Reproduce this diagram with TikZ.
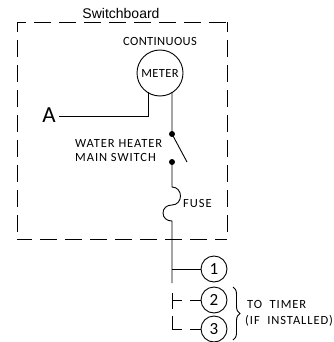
\documentclass[tikz,border=0pt]{standalone}
\usepackage{fontspec}
\setmainfont{Liberation Sans}
\newfontfamily\cadfont[LetterSpace=3]{Carlito}
\newfontfamily\cadwidefont[LetterSpace=7.5]{Carlito}
\usetikzlibrary{decorations.pathreplacing}
\tikzset{
    wire/.style={line width=0.9pt},
    cabinet/.style={line width=0.9pt, dash pattern=on 17pt off 8pt},
    terminal/.style={draw, circle, line width=0.9pt, minimum size=26pt, inner sep=0pt, font=\cadfont\fontsize{17}{17}\selectfont},
    contact/.style={fill, circle, minimum size=6pt, inner sep=0pt},
    cadtext/.style={font=\cadfont\fontsize{12.5}{13.5}\selectfont, inner sep=0pt},
    cadwide/.style={font=\cadwidefont\fontsize{12.5}{13.5}\selectfont, inner sep=0pt},
}
\begin{document}
\begin{tikzpicture}[x=1pt,y=-1pt]
\useasboundingbox (0,0) rectangle (333,342);
% cabinet, one side at a time so that the corners stay closed
\coordinate (nw) at (17,22);
\coordinate (ne) at (227,22);
\coordinate (sw) at (17,239);
\coordinate (se) at (227,239);
\draw[cabinet, dash phase=7pt] (nw) -- (sw);
\draw[cabinet, dash phase=7pt] (ne) -- (se);
\draw[cabinet, dash phase=8pt] (nw) -- (ne);
\draw[cabinet, dash phase=2pt] (sw) -- (se);

\node[font=\fontsize{14}{14}\selectfont] (board) at (121,13) {Switchboard};
\node[cadtext] (cont) at (160,41) {CONTINUOUS};
\node[draw, circle, wire, minimum size=46pt, cadtext] (meter) at (160,73) {METER};
\node[font=\cadfont\fontsize{23}{23}\selectfont, inner sep=0pt] (a) at (49,115) {A};

\coordinate (leadA) at (59,116);
\coordinate (cornerA) at (148,116);
\coordinate (meterA) at (148,92);
\coordinate (meterB) at (172,92);
\draw[wire] (leadA) -- (cornerA) -- (meterA);

\node[contact] (upper) at (172,134) {};
\node[contact] (lower) at (172,162) {};
\coordinate (blade) at (187,162);
\coordinate (fuseA) at (172,187);
\coordinate (fuseB) at (172,221);
\coordinate (tail) at (172,283);
\draw[wire] (meterB) -- (upper.center) -- (blade);
\draw[wire] (lower.center) -- (fuseA)
    .. controls (177,187) and (180.5,191) .. (180.5,196)
    .. controls (180.5,201) and (177,205) .. (172,205)
    .. controls (167,205) and (163,208) .. (163,213)
    .. controls (163,218) and (167,221) .. (fuseB) -- (tail);

\node[cadwide, align=left, anchor=west] (heater) at (75,150.5) {WATER HEATER\\MAIN SWITCH};
\node[cadwide, anchor=west] (fuse) at (183,203) {FUSE};

\node[terminal] (t1) at (214,269) {1};
\node[terminal] (t2) at (214,300) {2};
\node[terminal] (t3) at (214,329) {3};
\coordinate (j1) at (172,269);
\coordinate (j2) at (172,300);
\coordinate (j3) at (172,329);
\coordinate (stub2) at (182,300);
\coordinate (stub3) at (182,329);
\coordinate (lead2) at (190,300);
\coordinate (lead3) at (190,329);
\draw[wire] (j1) -- (t1);
\draw[wire] (172,293) -- (172,309);
\draw[wire] (j2) -- (stub2);
\draw[wire] (lead2) -- (t2);
\draw[wire] (172,316) -- (j3) -- (stub3);
\draw[wire] (lead3) -- (t3);

\draw[wire, decorate, decoration={brace, amplitude=7pt}] (233,287) -- (233,340);
\node[cadwide, align=left, anchor=west] (timer) at (245,313) {\hspace{2pt}TO\ \ TIMER\\[2.5pt](IF\ \ INSTALLED)};
\end{tikzpicture}
\end{document}
